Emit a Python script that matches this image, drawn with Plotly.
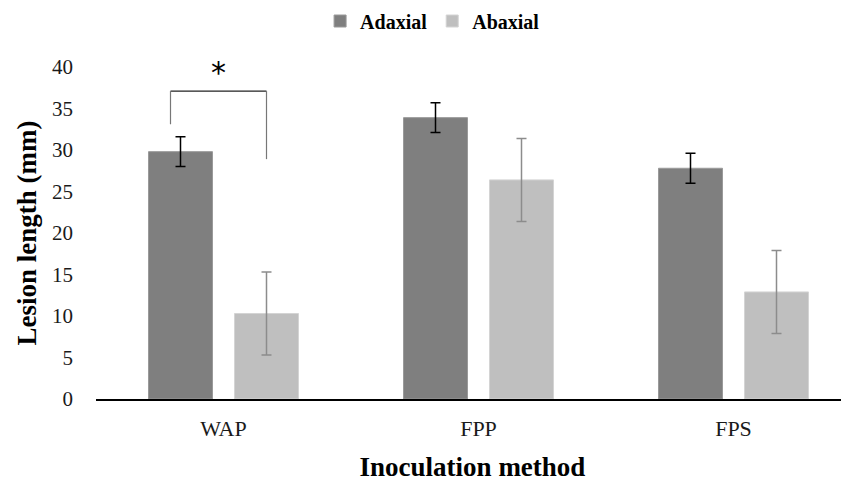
import plotly.graph_objects as go

# ---- data ----
categories = ["WAP", "FPP", "FPS"]
adaxial = [29.8, 33.9, 27.8]
adaxial_err = [1.8, 1.8, 1.8]
abaxial = [10.3, 26.4, 12.9]
abaxial_err = [5.0, 5.0, 5.0]
y_ticks = [0, 5, 10, 15, 20, 25, 30, 35, 40]

FONT = "Liberation Serif"
x_idx = list(range(len(categories)))

# page has an 8px default body margin; size the figure to fit the window
W, H = 841, 474

# bar geometry (in category units; one category = 255 px)
BAR_W = 64 / 255
OFF_AD = -75 / 255
OFF_AB = 11 / 255

fig = go.Figure()
fig.add_trace(go.Bar(
    name="Adaxial", x=x_idx, y=adaxial, width=BAR_W, offset=OFF_AD,
    marker=dict(color="#7f7f7f", line=dict(color="#9a9a9a", width=1)),
    error_y=dict(type="data", array=adaxial_err, color="#000000", thickness=1.5, width=5),
))
fig.add_trace(go.Bar(
    name="Abaxial", x=x_idx, y=abaxial, width=BAR_W, offset=OFF_AB,
    marker=dict(color="#bfbfbf", line=dict(color="#d4d4d4", width=1)),
    error_y=dict(type="data", array=abaxial_err, color="#8c8c8c", thickness=1.5, width=5),
))

# significance bracket between WAP adaxial and abaxial
ad_c = OFF_AD + BAR_W / 2
ab_c = OFF_AB + BAR_W / 2
bx0 = ad_c - 10 / 255
bx1 = ab_c
y_top = 37.1
fig.add_shape(type="line", xref="x", yref="y", x0=bx0, x1=bx1, y0=y_top, y1=y_top,
              line=dict(color="#222222", width=1.2))
fig.add_shape(type="line", xref="x", yref="y", x0=bx0, x1=bx0, y0=y_top, y1=adaxial[0] + adaxial_err[0] + 1.5,
              line=dict(color="#777777", width=1.2))
fig.add_shape(type="line", xref="x", yref="y", x0=bx1, x1=bx1, y0=y_top, y1=28.9,
              line=dict(color="#777777", width=1.2))
fig.add_annotation(x=(bx0 + bx1) / 2, y=39.3, xref="x", yref="y", text="*", showarrow=False,
                   font=dict(family="DejaVu Sans", size=30, color="#000000"), yanchor="middle")

fig.update_layout(
    width=W, height=H,
    margin=dict(l=88, r=0, t=59, b=83, autoexpand=False),
    paper_bgcolor="white", plot_bgcolor="white",
    barmode="group",
    font=dict(family=FONT, color="#1a1a1a", size=21),
    showlegend=True,
    legend=dict(orientation="h", x=0.447, xanchor="center", y=1 - 13 / H, yanchor="middle",
                yref="container", font=dict(family=FONT, size=20, color="#000000", weight="bold"),
                itemwidth=30, tracegroupgap=0, bgcolor="rgba(0,0,0,0)"),
    xaxis=dict(
        range=[-0.5, -0.5 + 753 / 255],
        tickmode="array", tickvals=x_idx, ticktext=categories,
        showline=True, linecolor="#000000", linewidth=1.5,
        showgrid=False, zeroline=False, ticks="",
        tickfont=dict(family=FONT, size=22, color="#1a1a1a"),
        ticklabelstandoff=9, automargin=False,
        title=dict(text="<b>Inoculation method</b>", font=dict(family=FONT, size=27, color="#000000"),
                   standoff=20),
    ),
    yaxis=dict(
        range=[0, 40], tickmode="array", tickvals=y_ticks,
        showline=False, showgrid=False, zeroline=False, ticks="",
        tickfont=dict(family=FONT, size=21, color="#1a1a1a"),
        ticklabelstandoff=22, automargin=False,
        title=dict(text="<b>Lesion length (mm)</b>", font=dict(family=FONT, size=27, color="#000000"),
                   standoff=7),
    ),
)

fig.write_html("out.html")
